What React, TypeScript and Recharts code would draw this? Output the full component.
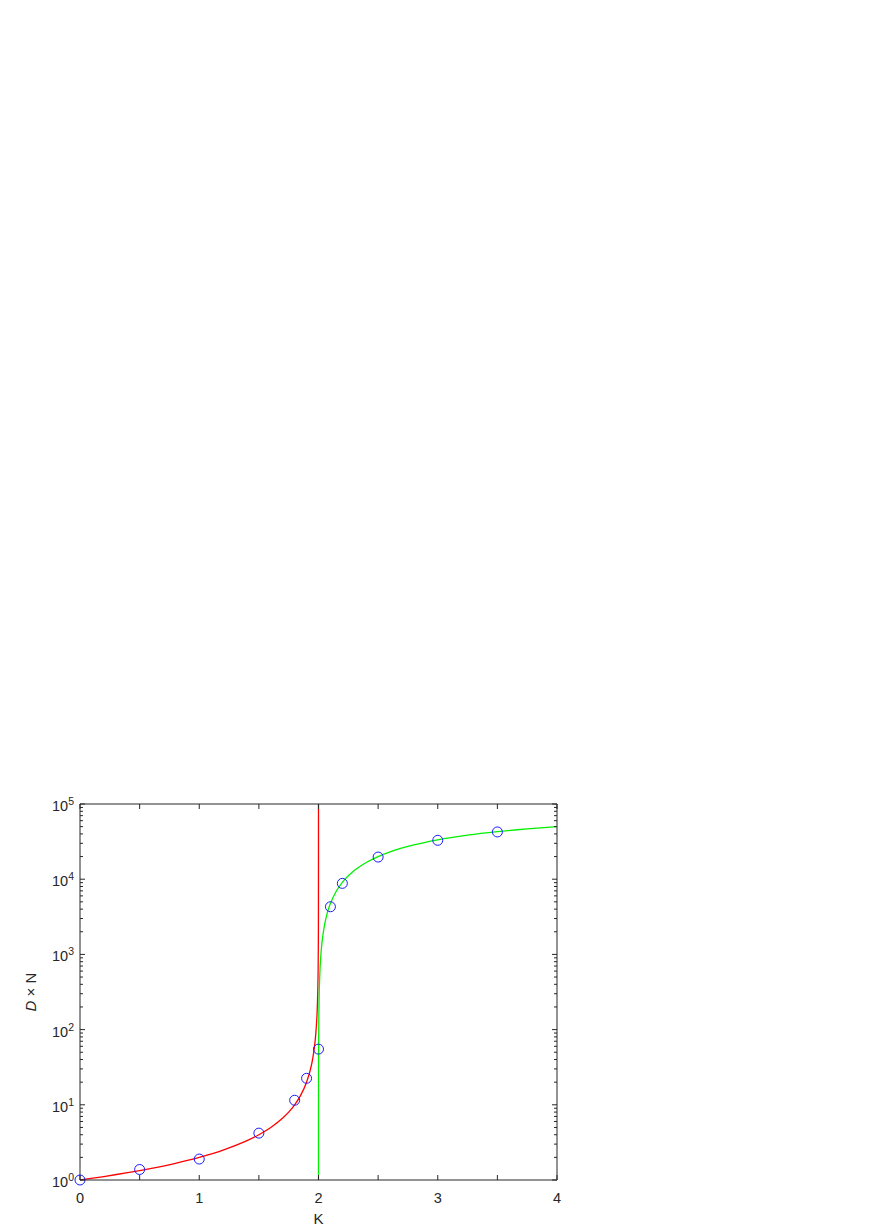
import React from 'react';
import { ComposedChart, Line, Scatter, XAxis, YAxis, ReferenceLine } from 'recharts';

// ---- data ----
const redK = [0, 0.2, 0.4, 0.6, 0.8, 1.0, 1.2, 1.4, 1.5, 1.6, 1.7, 1.75, 1.8, 1.85, 1.9, 1.93, 1.95, 1.97, 1.98, 1.99, 1.995, 1.998, 1.999, 1.9995, 1.9999, 1.99998];
const redDN = [1, 1.111, 1.25, 1.429, 1.667, 2, 2.5, 3.333, 4, 5, 6.667, 8, 10, 13.33, 20, 28.57, 40, 66.67, 100, 200, 400, 1000, 2000, 4000, 20000, 100000];

const greenK = [2.00002, 2.0001, 2.0005, 2.001, 2.002, 2.005, 2.01, 2.02, 2.03, 2.05, 2.075, 2.1, 2.15, 2.2, 2.3, 2.4, 2.5, 2.6, 2.8, 3.0, 3.25, 3.5, 3.75, 4.0];
const greenDN = [1, 5, 25, 50, 100, 250, 498, 990, 1478, 2439, 3614, 4762, 6977, 9091, 13043, 16667, 20000, 23077, 28571, 33333, 38462, 42857, 46667, 50000];

const pointK = [0, 0.5, 1, 1.5, 1.8, 1.9, 2.0, 2.1, 2.2, 2.5, 3.0, 3.5];
const pointDN = [1, 1.38, 1.9, 4.2, 11.5, 22.5, 55, 4300, 8800, 19700, 32900, 42500];

const xTicks = [0, 0.5, 1, 1.5, 2, 2.5, 3, 3.5, 4];
const yTicks = [
  1, 2, 3, 4, 5, 6, 7, 8, 9,
  10, 20, 30, 40, 50, 60, 70, 80, 90,
  100, 200, 300, 400, 500, 600, 700, 800, 900,
  1000, 2000, 3000, 4000, 5000, 6000, 7000, 8000, 9000,
  10000, 20000, 30000, 40000, 50000, 60000, 70000, 80000, 90000,
  100000,
];

const redData = redK.map((k, i) => ({ k, v: redDN[i] }));
const greenData = greenK.map((k, i) => ({ k, v: greenDN[i] }));
const pointData = pointK.map((k, i) => ({ k, v: pointDN[i] }));

// ---- layout ----
const W = 872;
const H = 1232;
const PLOT = { left: 80, right: 557, top: 804, bottom: 1180 };
const Y_AXIS_W = 50;
const X_AXIS_H = 30;
const AX = '#262626';
const FONT = 'Arial, "Liberation Sans", Helvetica, sans-serif';

const YTick = (props: any) => {
  const { y, payload } = props;
  const v = payload.value as number;
  const exp = Math.round(Math.log10(v));
  const major = Math.abs(Math.pow(10, exp) - v) < 1e-6 * v;
  const len = major ? 5 : 3;
  return (
    <g>
      <line x1={PLOT.left} x2={PLOT.left + len} y1={y} y2={y} stroke={AX} strokeWidth={1} />
      <line x1={PLOT.right} x2={PLOT.right - len} y1={y} y2={y} stroke={AX} strokeWidth={1} />
      {major && (
        <text x={PLOT.left - 6} y={y + 7} textAnchor="end" fill={AX} fontSize={14.5} fontFamily={FONT}>
          10
          <tspan dy={-6} fontSize={10.5}>{exp}</tspan>
        </text>
      )}
    </g>
  );
};

const XTick = (props: any) => {
  const { x, payload } = props;
  const v = payload.value as number;
  const isInt = Math.abs(v - Math.round(v)) < 1e-9;
  return (
    <g>
      <line x1={x} x2={x} y1={PLOT.bottom} y2={PLOT.bottom - 5} stroke={AX} strokeWidth={1} />
      <line x1={x} x2={x} y1={PLOT.top} y2={PLOT.top + 5} stroke={AX} strokeWidth={1} />
      {isInt && (
        <text x={x} y={PLOT.bottom + 23} textAnchor="middle" fill={AX} fontSize={14.5} fontFamily={FONT}>
          {String(v)}
        </text>
      )}
    </g>
  );
};

const Circle = (props: any) => {
  const { cx, cy } = props;
  if (cx == null || cy == null) return null;
  return <circle cx={cx} cy={cy} r={5} fill="none" stroke="#1a1aff" strokeWidth={1} />;
};

export default function App() {
  return (
    <div style={{ position: 'absolute', left: 0, top: 0, width: W, height: H, background: '#fff' }}>
      <ComposedChart
        width={W}
        height={H}
        margin={{
          top: PLOT.top,
          right: W - PLOT.right,
          bottom: H - PLOT.bottom - X_AXIS_H,
          left: PLOT.left - Y_AXIS_W,
        }}
      >
        <XAxis
          xAxisId="b"
          dataKey="k"
          type="number"
          domain={[0, 4]}
          ticks={xTicks}
          interval={0}
          height={X_AXIS_H}
          axisLine={{ stroke: AX }}
          tickLine={false}
          tick={<XTick />}
        />
        <YAxis
          yAxisId="l"
          dataKey="v"
          type="number"
          scale="log"
          domain={[1, 100000]}
          ticks={yTicks}
          interval={0}
          width={Y_AXIS_W}
          axisLine={{ stroke: AX }}
          tickLine={false}
          tick={<YTick />}
        />
        <ReferenceLine xAxisId="b" yAxisId="l" y={100000} stroke={AX} strokeWidth={1} />
        <ReferenceLine xAxisId="b" yAxisId="l" x={4} stroke={AX} strokeWidth={1} />
        <Line
          xAxisId="b"
          yAxisId="l"
          data={redData}
          dataKey="v"
          type="monotone"
          stroke="#ff0000"
          strokeWidth={1.3}
          dot={false}
          activeDot={false}
          isAnimationActive={false}
        />
        <Line
          xAxisId="b"
          yAxisId="l"
          data={greenData}
          dataKey="v"
          type="monotone"
          stroke="#00f000"
          strokeWidth={1.3}
          dot={false}
          activeDot={false}
          isAnimationActive={false}
        />
        <Scatter
          xAxisId="b"
          yAxisId="l"
          data={pointData}
          dataKey="v"
          shape={<Circle />}
          isAnimationActive={false}
        />
      </ComposedChart>
      <div
        style={{
          position: 'absolute',
          left: 0,
          top: 0,
          width: W,
          height: H,
          pointerEvents: 'none',
        }}
      >
        <svg width={W} height={H} style={{ position: 'absolute', left: 0, top: 0 }}>
          <text
            x={(PLOT.left + PLOT.right) / 2}
            y={1224}
            textAnchor="middle"
            fill={AX}
            fontSize={15}
            fontFamily={FONT}
          >
            K
          </text>
          <text
            transform={`translate(36, ${(PLOT.top + PLOT.bottom) / 2}) rotate(-90)`}
            textAnchor="middle"
            fill={AX}
            fontSize={15}
            fontFamily={FONT}
          >
            <tspan fontStyle="italic">D</tspan> × N
          </text>
        </svg>
      </div>
    </div>
  );
}
